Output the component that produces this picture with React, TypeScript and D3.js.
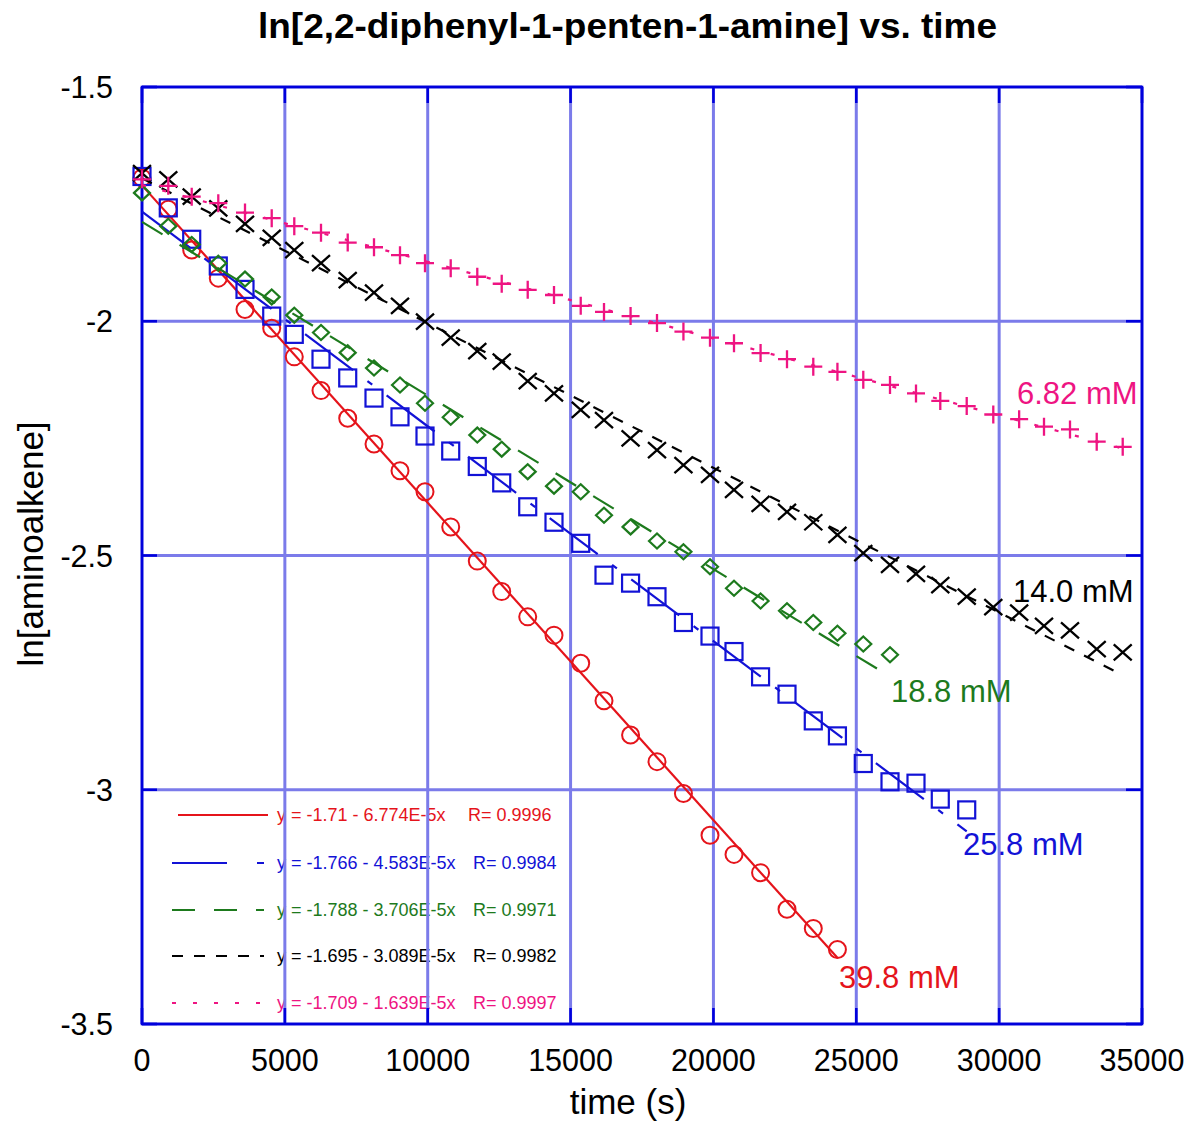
import React from "react";
import * as d3 from "d3";

const times = [0, 920, 1740, 2670, 3605, 4540, 5330, 6265, 7200, 8120, 9030, 9905, 10805, 11735, 12590, 13500, 14420, 15355, 16170, 17100, 18025, 18950, 19880, 20720, 21650, 22575, 23495, 24340, 25245, 26180, 27090, 27940, 28865, 29795, 30700, 31570, 32480, 33415, 34325];

const red398 = [-1.694, -1.761, -1.848, -1.908, -1.975, -2.015, -2.076, -2.148, -2.207, -2.262, -2.319, -2.364, -2.439, -2.512, -2.577, -2.631, -2.670, -2.730, -2.810, -2.883, -2.940, -3.008, -3.097, -3.138, -3.177, -3.255, -3.296, -3.341];
const blue258 = [-1.691, -1.758, -1.825, -1.882, -1.932, -1.989, -2.028, -2.081, -2.121, -2.164, -2.204, -2.245, -2.277, -2.310, -2.345, -2.396, -2.429, -2.474, -2.542, -2.559, -2.588, -2.643, -2.672, -2.705, -2.759, -2.796, -2.853, -2.885, -2.944, -2.983, -2.986, -3.020, -3.043];
const green188 = [-1.726, -1.797, -1.836, -1.876, -1.910, -1.948, -1.987, -2.024, -2.067, -2.100, -2.136, -2.175, -2.205, -2.243, -2.273, -2.321, -2.352, -2.364, -2.414, -2.439, -2.469, -2.492, -2.524, -2.570, -2.597, -2.618, -2.643, -2.666, -2.689, -2.712];
const black140 = [-1.684, -1.697, -1.734, -1.759, -1.792, -1.822, -1.848, -1.876, -1.912, -1.939, -1.967, -2.001, -2.035, -2.064, -2.086, -2.128, -2.154, -2.189, -2.211, -2.250, -2.275, -2.307, -2.328, -2.360, -2.390, -2.407, -2.429, -2.456, -2.495, -2.520, -2.539, -2.563, -2.588, -2.610, -2.622, -2.650, -2.660, -2.700, -2.707];
const pink682 = [-1.697, -1.711, -1.734, -1.748, -1.768, -1.780, -1.797, -1.811, -1.832, -1.842, -1.859, -1.876, -1.887, -1.905, -1.920, -1.933, -1.944, -1.967, -1.980, -1.989, -2.004, -2.022, -2.035, -2.047, -2.068, -2.081, -2.097, -2.108, -2.125, -2.136, -2.154, -2.170, -2.181, -2.199, -2.209, -2.225, -2.231, -2.257, -2.268];

const seriesLabels = ["39.8 mM", "25.8 mM", "18.8 mM", "14.0 mM", "6.82 mM"];
const intercepts = [-1.71, -1.766, -1.788, -1.695, -1.709];
const slopes = [6.774e-5, 4.583e-5, 3.706e-5, 3.089e-5, 1.639e-5];
const equations = ["y = -1.71 - 6.774E-5x", "y = -1.766 - 4.583E-5x", "y = -1.788 - 3.706E-5x", "y = -1.695 - 3.089E-5x", "y = -1.709 - 1.639E-5x"];
const rValues = ["R= 0.9996", "R= 0.9984", "R= 0.9971", "R= 0.9982", "R= 0.9997"];

const xTicks = [0, 5000, 10000, 15000, 20000, 25000, 30000, 35000];
const yTicks = [-1.5, -2, -2.5, -3, -3.5];

const title = "ln[2,2-diphenyl-1-penten-1-amine] vs. time";
const xTitle = "time (s)";
const yTitle = "ln[aminoalkene]";

const values = [red398, blue258, green188, black140, pink682];
const colors = ["#e5141b", "#1212d6", "#1d7a1d", "#000000", "#ee1482"];
const markers = ["circle", "square", "diamond", "x", "plus"];
const plotDash = [null, "60,18,6,18", "24,20", "11,11", "4,17"];
const legendDash = [null, "55,30,7,30", "23,19", "11,11", "4,17"];
const labelPos = [[839, 988], [963, 855], [891, 702], [1013, 602], [1017, 404]];
const legendY = [815, 863, 910, 956, 1003];
const rX = [468, 473, 473, 473, 473];

const FONT = "Arial, 'Liberation Sans', Helvetica, sans-serif";

function Marker({ type, x, y, color }: { type: string; x: number; y: number; color: string }) {
  if (type === "circle") return <circle cx={x} cy={y} r={8.5} fill="none" stroke={color} strokeWidth={2} />;
  if (type === "square") return <rect x={x - 8.5} y={y - 8.5} width={17} height={17} fill="none" stroke={color} strokeWidth={2.2} />;
  if (type === "diamond")
    return <path d={`M${x - 8},${y}L${x},${y - 7.5}L${x + 8},${y}L${x},${y + 7.5}Z`} fill="none" stroke={color} strokeWidth={2.2} />;
  if (type === "x")
    return <path d={`M${x - 9},${y - 8}L${x + 9},${y + 8}M${x - 9},${y + 8}L${x + 9},${y - 8}`} stroke={color} strokeWidth={2.3} />;
  return <path d={`M${x - 9},${y}L${x + 9},${y}M${x},${y - 9}L${x},${y + 9}`} stroke={color} strokeWidth={2.3} />;
}

export default function App() {
  const x = d3.scaleLinear().domain([0, 35000]).range([142, 1142]);
  const y = d3.scaleLinear().domain([-3.5, -1.5]).range([1024, 87]);
  const line = d3.line<[number, number]>().x((d) => x(d[0])).y((d) => y(d[1]));
  const gridColor = "#7b7bea";
  const frameColor = "#0000dc";

  return (
    <svg width={1188} height={1124} style={{ position: "absolute", left: 0, top: 0, background: "#fff" }} fontFamily={FONT}>
      <rect width={1188} height={1124} fill="#fff" />
      {/* title */}
      <text x={627.5} y={38} textAnchor="middle" fontSize={35} fontWeight="bold"
        fontFamily="'Liberation Sans Narrow', 'Arial Narrow', Arial, sans-serif" textLength={739} lengthAdjust="spacingAndGlyphs">
        {title}
      </text>

      {/* legend (under grid) */}
      {equations.map((eq, i) => (
        <g key={"lg" + i}>
          <line x1={i === 0 ? 178 : 172} x2={i === 0 ? 268 : 264} y1={legendY[i]} y2={legendY[i]} stroke={colors[i]} strokeWidth={2.2}
            strokeDasharray={legendDash[i] ?? undefined} />
          <text x={277} y={legendY[i] + 6} fontSize={18} fill={colors[i]}>{eq}</text>
          <text x={rX[i]} y={legendY[i] + 6} fontSize={18} fill={colors[i]}>{rValues[i]}</text>
        </g>
      ))}

      {/* grid */}
      {xTicks.map((t) => (
        <line key={"gx" + t} x1={x(t)} x2={x(t)} y1={87} y2={1024} stroke={gridColor} strokeWidth={3} />
      ))}
      {yTicks.map((t) => (
        <line key={"gy" + t} x1={142} x2={1142} y1={y(t)} y2={y(t)} stroke={gridColor} strokeWidth={3} />
      ))}

      {/* frame */}
      <rect x={142} y={87} width={1000} height={937} fill="none" stroke={frameColor} strokeWidth={2.6} />
      {xTicks.map((t) => (
        <g key={"tx" + t}>
          <line x1={x(t)} x2={x(t)} y1={87} y2={103} stroke={frameColor} strokeWidth={2.6} />
          <line x1={x(t)} x2={x(t)} y1={1024} y2={1008} stroke={frameColor} strokeWidth={2.6} />
          <text x={x(t)} y={1071} textAnchor="middle" fontSize={30.5} fill="#000">{String(t)}</text>
        </g>
      ))}
      {yTicks.map((t) => (
        <g key={"ty" + t}>
          <line x1={142} x2={157} y1={y(t)} y2={y(t)} stroke={frameColor} strokeWidth={2.6} />
          <line x1={1142} x2={1126} y1={y(t)} y2={y(t)} stroke={frameColor} strokeWidth={2.6} />
          <text x={113} y={y(t) + 11} textAnchor="end" fontSize={30.5} fill="#000">{String(t)}</text>
        </g>
      ))}

      {/* axis titles */}
      <text x={628} y={1114} textAnchor="middle" fontSize={35} fill="#000">{xTitle}</text>
      <text transform="translate(43,544) rotate(-90)" textAnchor="middle" fontSize={35} fill="#000">{yTitle}</text>

      {/* series */}
      {values.map((vals, i) => {
        const tEnd = times[vals.length - 1];
        const fit: [number, number][] = [
          [0, intercepts[i]],
          [tEnd, intercepts[i] - slopes[i] * tEnd],
        ];
        return (
          <g key={"s" + i}>
            <path d={line(fit) ?? ""} fill="none" stroke={colors[i]} strokeWidth={2.2} strokeDasharray={plotDash[i] ?? undefined} />
            {vals.map((v, j) => (
              <Marker key={j} type={markers[i]} x={x(times[j])} y={y(v)} color={colors[i]} />
            ))}
            <text x={labelPos[i][0]} y={labelPos[i][1]} fontSize={31} fill={colors[i]}>{seriesLabels[i]}</text>
          </g>
        );
      })}
    </svg>
  );
}
